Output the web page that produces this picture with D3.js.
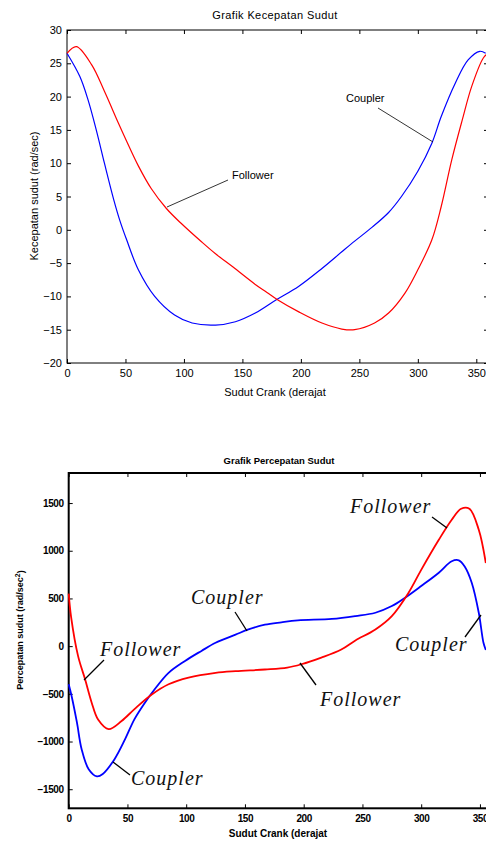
<!DOCTYPE html>
<html lang="en">
<head>
    <meta charset="UTF-8">
    <title>Grafik Kecepatan dan Percepatan Sudut</title>
    <script src="https://d3js.org/d3.v7.min.js"></script>
    <style>
        body { margin: 0; background: #fff; }
        svg { display: block; }
    </style>
</head>
<body>
    <svg id="chart" width="486" height="843"></svg>
    <script>
        // --- data ---
        const xTicks = [0, 50, 100, 150, 200, 250, 300, 350];

        // Grafik Kecepatan Sudut
        const velTicks = [-20, -15, -10, -5, 0, 5, 10, 15, 20, 25, 30];
        const velFollowerDeg = [0, 8, 21, 32, 44, 51, 61, 72, 85, 98, 115, 127, 142, 161, 171, 180, 199, 218, 235, 246, 263, 275, 289, 300, 312, 320, 329, 338, 346, 356, 360];
        const velFollower = [26.5, 27.5, 24.8, 20.8, 16, 13.3, 9.6, 6.2, 3.2, 0.9, -1.8, -3.6, -5.6, -8.2, -9.4, -10.5, -12.4, -14, -14.9, -15, -14, -12.5, -9.5, -6, -1.5, 3.5, 10.5, 16.5, 21.5, 25.8, 26.5];
        const velCouplerDeg = [0, 11, 18, 25, 32, 40, 45, 51, 61, 75, 92, 107, 127, 144, 161, 179, 198, 218, 235, 246, 261, 275, 286, 300, 312, 320, 332, 343, 353, 358];
        const velCoupler = [26.5, 23, 19.5, 15, 10, 4.5, 1.5, -1.5, -6, -10, -12.8, -14, -14.3, -13.8, -12.5, -10.5, -8.5, -5.8, -3.3, -1.7, 0.4, 2.6, 5, 8.8, 13, 17, 22, 25.5, 26.8, 26.5];

        // Grafik Percepatan Sudut
        const accTicks = [-1500, -1000, -500, 0, 500, 1000, 1500];
        const accFollowerDeg = [0, 2, 8, 14, 19.5, 25, 34, 45, 56, 71, 85, 102, 125, 142, 167, 186, 198, 215, 232, 244, 261, 275, 289, 300, 315, 326, 334, 341, 349, 355];
        const accFollower = [550, 310, -105, -350, -590, -770, -870, -785, -660, -505, -400, -330, -280, -262, -245, -225, -190, -120, -35, 60, 175, 315, 555, 800, 1115, 1325, 1440, 1440, 1220, 870];
        const accCouplerDeg = [0, 2.5, 7, 11, 17, 24, 29, 39, 48, 56, 65, 73, 85, 99, 113, 125, 142, 153, 167, 181, 195, 224, 244, 261, 275, 286, 300, 315, 326, 332, 337, 343, 349, 353, 355];
        const accCoupler = [-400, -525, -800, -1080, -1290, -1365, -1340, -1185, -975, -765, -590, -455, -280, -155, -50, 35, 120, 175, 225, 250, 270, 285, 315, 350, 420, 505, 630, 770, 890, 900, 835, 665, 350, 35, -40];

        const svg = d3.select('#chart');
        const sans = 'Arial, "Liberation Sans", sans-serif';
        const serif = '"Liberation Serif", "DejaVu Serif", serif';

        function frameAxes(g, x, y, yTicks, opt) {
            const [x0, x1] = x.range();
            const [y0, y1] = y.range(); // y0 bottom, y1 top

            g.append('g')
                .attr('transform', `translate(0,${y0})`)
                .call(d3.axisBottom(x).tickValues(xTicks).tickSize(-4).tickSizeOuter(0).tickPadding(opt.xPad).tickFormat(d3.format('d')))
                .call(a => a.select('.domain').remove());
            g.append('g')
                .attr('transform', `translate(0,${y1})`)
                .call(d3.axisTop(x).tickValues(xTicks).tickSize(-4).tickSizeOuter(0).tickFormat(''))
                .call(a => a.select('.domain').remove());
            g.append('g')
                .attr('transform', `translate(${x0},0)`)
                .call(d3.axisLeft(y).tickValues(yTicks).tickSize(-4).tickSizeOuter(0).tickPadding(5).tickFormat(d3.format('d')))
                .call(a => a.select('.domain').remove());
            g.append('g')
                .attr('transform', `translate(${x1},0)`)
                .call(d3.axisRight(y).tickValues(yTicks).tickSize(-4).tickSizeOuter(0).tickFormat(''))
                .call(a => a.select('.domain').remove());

            g.selectAll('.tick line').attr('stroke', '#000');
            g.selectAll('.tick text')
                .attr('fill', '#000')
                .style('font-family', sans)
                .style('font-size', opt.tickFont)
                .style('font-weight', opt.bold ? 'bold' : 'normal')
                .style('letter-spacing', opt.bold ? '-0.4px' : '0px');

            g.append('rect')
                .attr('x', x0).attr('y', y1)
                .attr('width', x1 - x0).attr('height', y0 - y1)
                .attr('fill', 'none')
                .attr('stroke', '#000')
                .attr('stroke-width', opt.frameWidth);
        }

        function zip(xs, ys) { return xs.map((d, i) => [d, ys[i]]); }

        // ================= chart 1 =================
        const x1 = d3.scaleLinear().domain([0, 360]).range([67, 488]);
        const y1 = d3.scaleLinear().domain([-20, 30]).range([363, 30]);
        const g1 = svg.append('g');

        frameAxes(g1, x1, y1, velTicks, { xPad: 6, tickFont: '11px', bold: false, frameWidth: 1 });

        const line1 = d3.line().x(d => x1(d[0])).y(d => y1(d[1])).curve(d3.curveCatmullRom.alpha(0.5));

        g1.append('path')
            .datum(zip(velCouplerDeg, velCoupler))
            .attr('fill', 'none').attr('stroke', '#0000ff').attr('stroke-width', 1.2)
            .attr('d', line1);
        g1.append('path')
            .datum(zip(velFollowerDeg, velFollower))
            .attr('fill', 'none').attr('stroke', '#ff0000').attr('stroke-width', 1.2)
            .attr('d', line1);

        g1.append('text')
            .attr('x', 275).attr('y', 19)
            .attr('text-anchor', 'middle')
            .style('font-family', sans).style('font-size', '11px').style('letter-spacing', '0.4px')
            .text('Grafik Kecepatan Sudut');
        g1.append('text')
            .attr('x', 275).attr('y', 396)
            .attr('text-anchor', 'middle')
            .style('font-family', sans).style('font-size', '11px')
            .text('Sudut Crank (derajat');
        g1.append('text')
            .attr('transform', 'translate(38,196) rotate(-90)')
            .attr('text-anchor', 'middle')
            .style('font-family', sans).style('font-size', '11px')
            .text('Kecepatan sudut (rad/sec)');

        // labels with leader lines
        g1.append('line').attr('x1', 228).attr('y1', 180).attr('x2', 167).attr('y2', 207)
            .attr('stroke', '#000').attr('stroke-width', 0.8);
        g1.append('text').attr('x', 232).attr('y', 179)
            .style('font-family', sans).style('font-size', '11px')
            .text('Follower');
        g1.append('line').attr('x1', 378).attr('y1', 108).attr('x2', 433).attr('y2', 142)
            .attr('stroke', '#000').attr('stroke-width', 0.8);
        g1.append('text').attr('x', 346).attr('y', 102)
            .style('font-family', sans).style('font-size', '11px')
            .text('Coupler');

        // ================= chart 2 =================
        const x2 = d3.scaleLinear().domain([0, 360]).range([68.7, 491.7]);
        const y2 = d3.scaleLinear().domain([-1700, 1815]).range([808.3, 473]);
        const g2 = svg.append('g');

        frameAxes(g2, x2, y2, accTicks, { xPad: 7, tickFont: '10px', bold: true, frameWidth: 2 });

        const line2 = d3.line().x(d => x2(d[0])).y(d => y2(d[1])).curve(d3.curveCatmullRom.alpha(0.5));

        g2.append('path')
            .datum(zip(accCouplerDeg, accCoupler))
            .attr('fill', 'none').attr('stroke', '#0000ff').attr('stroke-width', 1.8)
            .attr('d', line2);
        g2.append('path')
            .datum(zip(accFollowerDeg, accFollower))
            .attr('fill', 'none').attr('stroke', '#ff0000').attr('stroke-width', 1.8)
            .attr('d', line2);

        g2.append('text')
            .attr('x', 279).attr('y', 464)
            .attr('text-anchor', 'middle')
            .style('font-family', sans).style('font-size', '9.5px').style('font-weight', 'bold')
            .text('Grafik Percepatan Sudut');
        g2.append('text')
            .attr('x', 278).attr('y', 837)
            .attr('text-anchor', 'middle')
            .style('font-family', sans).style('font-size', '10px').style('font-weight', 'bold')
            .text('Sudut Crank (derajat');
        const yl = g2.append('text')
            .attr('transform', 'translate(23,630) rotate(-90)')
            .attr('text-anchor', 'middle')
            .style('font-family', sans).style('font-size', '9px').style('font-weight', 'bold');
        yl.append('tspan').text('Percepatan sudut (rad/sec');
        yl.append('tspan').attr('dy', '-0.4em').style('font-size', '7px').text('2');
        yl.append('tspan').attr('dy', '0.4em').text(')');

        const notes = [
            { t: 'Follower', x: 350, y: 513, l: [432, 517, 447, 528] },
            { t: 'Coupler', x: 191, y: 604, l: [235, 612, 247, 631] },
            { t: 'Follower', x: 100, y: 656, l: [104, 660, 84, 680] },
            { t: 'Follower', x: 320, y: 706, l: [300, 663, 316, 685] },
            { t: 'Coupler', x: 395, y: 651, l: [465, 637, 481, 615] },
            { t: 'Coupler', x: 131, y: 785, l: [113, 762, 130, 775] }
        ];
        notes.forEach(n => {
            g2.append('line')
                .attr('x1', n.l[0]).attr('y1', n.l[1]).attr('x2', n.l[2]).attr('y2', n.l[3])
                .attr('stroke', '#000').attr('stroke-width', 1.3);
            g2.append('text')
                .attr('x', n.x).attr('y', n.y)
                .style('font-family', serif).style('font-style', 'italic')
                .style('font-size', '20px').style('letter-spacing', '1px')
                .attr('fill', '#111')
                .text(n.t);
        });
    </script>
</body>
</html>
